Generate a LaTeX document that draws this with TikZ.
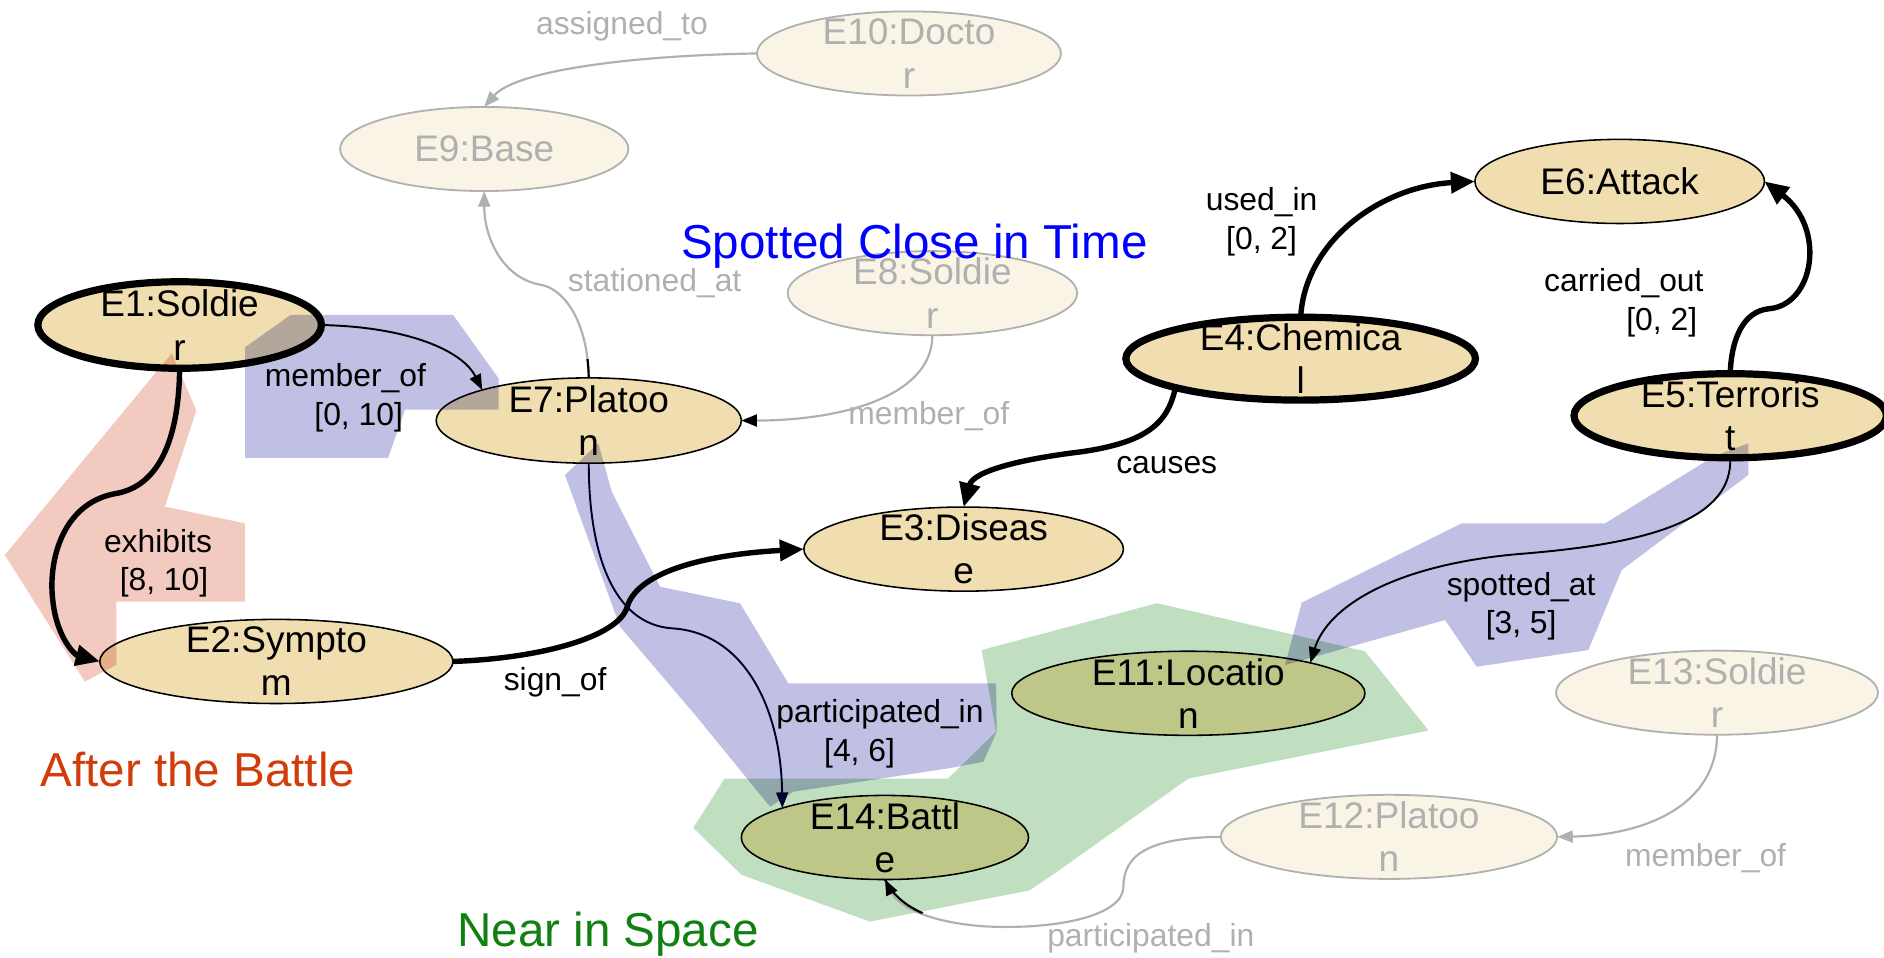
\documentclass[tikz,border=0pt]{standalone}
\usepackage{fontspec}
\setmainfont{Liberation Sans}
\usetikzlibrary{arrows.meta,shapes.geometric}

\definecolor{wheatfill}{RGB}{240,222,176}
\definecolor{placefill}{RGB}{255,228,181}
\definecolor{fadefill}{RGB}{250,244,230}
\definecolor{fadegray}{RGB}{176,176,176}
\definecolor{hlblue}{RGB}{191,192,227}
\definecolor{hlgreen}{RGB}{191,223,192}
\definecolor{hlpink}{RGB}{242,202,192}
\definecolor{navy}{RGB}{0,0,40}
\definecolor{battlered}{RGB}{210,60,10}
\definecolor{spacegreen}{RGB}{16,128,16}

\tikzset{
  ent/.style 2 args={ellipse, inner sep=0pt, outer sep=0pt,
    minimum width={2*#1*1pt}, minimum height={2*#2*1pt}},
  ring/.style={draw=black, line width=1.3pt},
  thickring/.style={draw=black, line width=6pt},
  fadering/.style={draw=fadegray, line width=1.5pt},
  ntext/.style={align=center, inner sep=0pt, font=\fontsize{30.8}{36}\selectfont},
  ftext/.style={ntext, text=fadegray},
  elabel/.style={align=center, inner sep=0pt, font=\fontsize{26.5}{32}\selectfont},
  glabel/.style={elabel, text=fadegray},
  biglabel/.style={inner sep=0pt, font=\fontsize{39.6}{44}\selectfont},
  thickedge/.style={line width=4.5pt, -{Triangle[length=20pt,width=17pt]}},
  thinedge/.style={line width=1.6pt, -{Triangle[length=13pt,width=10pt]}},
  grayedge/.style={line width=1.8pt, draw=fadegray, -{Triangle[length=13pt,width=10pt,color=fadegray]}},
  darktip/.style={-{Triangle[length=13pt,width=10pt,color=black]}},
}

\begin{document}
\begin{tikzpicture}[x=1pt,y=-1pt]
\useasboundingbox (0,0) rectangle (1568,797);
\clip (0,0) rectangle (1568,797);

% entity fills
\node[ent={118}{36}, fill=wheatfill] (e1) at (149.5,270.5) {};
\node[ent={147}{35}, fill=wheatfill] (e2) at (230,550.5) {};
\node[ent={133}{35}, fill=wheatfill] (e3) at (802,457) {};
\node[ent={145.5}{34.5}, fill=wheatfill] (e4) at (1082.5,298.5) {};
\node[ent={130}{35}, fill=wheatfill] (e5) at (1440,346) {};
\node[ent={120.5}{35}, fill=wheatfill] (e6) at (1348,151) {};
\node[ent={127}{35.5}, fill=wheatfill] (e7) at (490,350) {};
\node[ent={120.5}{35}, fill=fadefill] (e8) at (776,244) {};
\node[ent={120}{35}, fill=fadefill] (e9) at (403,124) {};
\node[ent={126.5}{35}, fill=fadefill] (e10) at (756.5,44.5) {};
\node[ent={147}{35}, fill=placefill] (e11) at (989,577) {};
\node[ent={140}{35}, fill=fadefill] (e12) at (1156,696.5) {};
\node[ent={134}{35}, fill=fadefill] (e13) at (1429,576.5) {};
\node[ent={119.5}{35}, fill=placefill] (e14) at (736.5,697) {};

% highlighted regions
\begin{scope}[blend mode=multiply]
  \fill[hlgreen] (817,541) -- (963,502) -- (1136,542) -- (1189,608) -- (989,648)
    -- (879,726) -- (857,741) -- (724,767) -- (617,728) -- (577,689) -- (603,648)
    -- (789,648) -- (829,609) -- cycle;
  \fill[hlblue] (242,262) -- (377,262) -- (415,315) -- (415,341) -- (337,341)
    -- (323,381) -- (204,381) -- (204,289) -- cycle;
  \fill[hlpink] (143,294) -- (163.4,341.6) -- (137.2,421.7) -- (203.7,435.5)
    -- (203.7,500.8) -- (96.8,500.8) -- (96.8,553.4) -- (70.6,567.3) -- (4,461.9) -- cycle;
  \fill[hlblue] (470.2,395.3) -- (498,369) -- (509.1,409.2) -- (549.3,488.3)
    -- (615.9,502.1) -- (656.1,568.7) -- (829,568.7) -- (829.5,609) -- (818.4,634)
    -- (789.3,639.5) -- (660.3,658.9) -- (640.9,671.4) -- (579.8,596.5) -- (516,521.6) -- cycle;
  \fill[hlblue] (1455.1,369) -- (1455.1,395.3) -- (1349.7,474.4) -- (1321.9,541)
    -- (1229,554.9) -- (1202.7,516) -- (1069.5,553.5) -- (1083.4,501.6)
    -- (1216.5,435.6) -- (1335.8,435.6) -- (1426,380) -- cycle;
\end{scope}

% relations
\draw[thinedge] (e1.east) .. controls (340,272) and (385,292) .. (e7.164);
\draw[thickedge] (e1.south) .. controls (149,360) and (135,405) .. (95,411)
  .. controls (50,420) and (40,470) .. (44,500) .. controls (47,530) and (62,545) .. (e2.west);
\draw[thickedge] (e2.east) .. controls (450,548) and (515,530) .. (522,505)
  .. controls (530,478) and (580,462) .. (e3.west);
\draw[thickedge] (e4.193) .. controls (972,352) and (955,368) .. (900,376)
  .. controls (850,382) and (810,392) .. (e3.north);
\draw[thickedge] (e4.north) .. controls (1086,200) and (1150,155) .. (e6.west);
\draw[thickedge] (e5.north) .. controls (1441,280) and (1452,259) .. (1472,257)
  .. controls (1510,254) and (1520,190) .. (e6.east);
\draw[thinedge, navy] (e7.south) .. controls (490,460) and (510,520) .. (560,523)
  .. controls (620,527) and (650,590) .. (e14.164);
\draw[thinedge] (e5.south) .. controls (1442,430) and (1380,452) .. (1265,461)
  .. controls (1160,470) and (1105,505) .. (e11.14);

% faded relations
\draw[grayedge] (e10.west) .. controls (530,46) and (430,58) .. (e9.north);
\draw[grayedge] (e7.north) .. controls (489,265) and (468,240) .. (450,237)
  .. controls (420,232) and (403,200) .. (e9.south);
\begin{scope}
  \clip (475,299) rectangle (505,320);
  \draw[line width=1.8pt] (e7.north) .. controls (489,265) and (468,240) .. (450,237);
\end{scope}
\draw[grayedge, darktip] (e8.south) .. controls (776,330) and (700,350) .. (e7.east);
\draw[grayedge] (e13.south) .. controls (1429,670) and (1370,695) .. (e12.east);
\draw[grayedge, darktip] (e12.west) .. controls (955,697) and (935,712) .. (935,738)
  .. controls (935,762) and (880,774) .. (820,771) .. controls (775,768) and (748,755) .. (e14.south);
\begin{scope}
  \clip (e14.south) circle[radius=42];
  \draw[line width=1.8pt] (820,771) .. controls (775,768) and (748,755) .. (e14.south);
\end{scope}

% entity outlines
\draw[thickring] (e1.center) ellipse [x radius=118, y radius=36];
\draw[ring] (e2.center) ellipse [x radius=147, y radius=35];
\draw[ring] (e3.center) ellipse [x radius=133, y radius=35];
\draw[thickring] (e4.center) ellipse [x radius=145.5, y radius=34.5];
\draw[thickring] (e5.center) ellipse [x radius=130, y radius=35];
\draw[ring] (e6.center) ellipse [x radius=120.5, y radius=35];
\draw[ring] (e7.center) ellipse [x radius=127, y radius=35.5];
\draw[fadering] (e8.center) ellipse [x radius=120.5, y radius=35];
\draw[fadering] (e9.center) ellipse [x radius=120, y radius=35];
\draw[fadering] (e10.center) ellipse [x radius=126.5, y radius=35];
\draw[ring] (e11.center) ellipse [x radius=147, y radius=35];
\draw[fadering] (e12.center) ellipse [x radius=140, y radius=35];
\draw[fadering] (e13.center) ellipse [x radius=134, y radius=35];
\draw[ring] (e14.center) ellipse [x radius=119.5, y radius=35];

% entity names
\node[ntext] (t1) at (e1.center) {E1:Soldie\\r};
\node[ntext] (t2) at (e2.center) {E2:Sympto\\m};
\node[ntext] (t3) at (e3.center) {E3:Diseas\\e};
\node[ntext] (t4) at (e4.center) {E4:Chemica\\l};
\node[ntext] (t5) at (e5.center) {E5:Terroris\\t};
\node[ntext] (t6) at (e6.center) {E6:Attack};
\node[ntext] (t7) at (e7.center) {E7:Platoo\\n};
\node[ftext] (t8) at (e8.center) {E8:Soldie\\r};
\node[ftext] (t9) at (e9.center) {E9:Base};
\node[ftext] (t10) at (e10.center) {E10:Docto\\r};
\node[ntext] (t11) at (e11.center) {E11:Locatio\\n};
\node[ftext] (t12) at (e12.center) {E12:Platoo\\n};
\node[ftext] (t13) at (e13.center) {E13:Soldie\\r};
\node[ntext] (t14) at (e14.center) {E14:Battl\\e};

% relation labels
\node[elabel] (l1) at (287.5,331) {member\_of\\\hspace*{22pt}[0, 10]};
\node[elabel] (l2) at (131.5,469) {exhibits\\\hspace*{10pt}[8, 10]};
\node[elabel, anchor=base] (l3) at (462,574.3) {sign\_of};
\node[elabel, anchor=base] (l4) at (971,394) {causes};
\node[elabel] (l5) at (1050,184.5) {used\_in\\{}[0, 2]};
\node[elabel] (l6) at (1351.5,252) {carried\_out\\\hspace*{63pt}[0, 2]};
\node[elabel] (l7) at (1266,504.4) {spotted\_at\\{}[3, 5]};
\node[elabel] (l8) at (732.4,610.7) {participated\_in\\{}[4, 6]\hspace*{34pt}};
\node[glabel, anchor=base] (g1) at (517.6,29) {assigned\_to};
\node[glabel, anchor=base] (g2) at (544.8,242.7) {stationed\_at};
\node[glabel, anchor=base] (g3) at (773,353.7) {member\_of};
\node[glabel, anchor=base] (g4) at (1419.5,721.3) {member\_of};
\node[glabel, anchor=base] (g5) at (957.8,787.9) {participated\_in};

% region captions
\node[biglabel, text=blue, anchor=base] (c1) at (761,215) {Spotted Close in Time};
\node[biglabel, text=battlered, anchor=base] (c2) at (164.6,654.7) {After the Battle};
\node[biglabel, text=spacegreen, anchor=base] (c3) at (506,787.9) {Near in Space};
\end{tikzpicture}
\end{document}
